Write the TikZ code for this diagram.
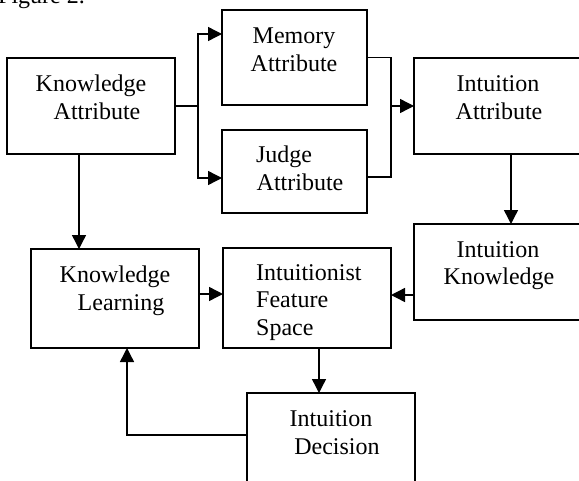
\documentclass[tikz,border=0pt]{standalone}
\usepackage{fontspec}
\setmainfont{Liberation Serif}
\usetikzlibrary{arrows.meta}
\begin{document}
\begin{tikzpicture}[x=1pt,y=-1pt,
  box/.style={draw,line width=1.2pt,inner sep=0pt,outer sep=0pt,anchor=north west},
  txt/.style={inner sep=0pt,anchor=base,font=\fontsize{24}{28}\selectfont},
  link/.style={line width=1.4pt},
  arr/.style={link,-{Triangle[length=14pt,width=14pt]}}]
\useasboundingbox (0,0) rectangle (579,480);

% caption, mostly above the top edge
\node[txt,anchor=base west] (fig) at (-2,3) {Figure 2.};

% boxes
\node[box,minimum width=168pt,minimum height=96pt]  (ka)  at (7,58)   {};
\node[box,minimum width=145pt,minimum height=95pt]  (mem) at (222,10) {};
\node[box,minimum width=145pt,minimum height=83pt]  (jud) at (222,130){};
\node[box,minimum width=168pt,minimum height=96pt]  (ia)  at (414,58) {};
\node[box,minimum width=168pt,minimum height=96pt]  (ik)  at (414,224){};
\node[box,minimum width=168pt,minimum height=99pt]  (kl)  at (31,249) {};
\node[box,minimum width=168pt,minimum height=100pt] (fs)  at (223,248){};
\node[box,minimum width=168pt,minimum height=96pt]  (id)  at (247,393){};

% labels
\node[txt] (ka1) at (91,91)   {Knowledge};
\node[txt] (ka2) at (97,119)  {Attribute};
\node[txt] (me1) at (294,43)  {Memory};
\node[txt] (me2) at (294,71)  {Attribute};
\node[txt] (ju1) at (284,162) {Judge};
\node[txt] (ju2) at (300,190) {Attribute};
\node[txt] (ia1) at (498,91)  {Intuition};
\node[txt] (ia2) at (499,119) {Attribute};
\node[txt] (ik1) at (498,257) {Intuition};
\node[txt] (ik2) at (499,284) {Knowledge};
\node[txt] (kl1) at (115,282) {Knowledge};
\node[txt] (kl2) at (121,310) {Learning};
\node[txt,anchor=base west] (fs1) at (256,280) {Intuitionist};
\node[txt,anchor=base west] (fs2) at (256,307) {Feature};
\node[txt,anchor=base west] (fs3) at (256,335) {Space};
\node[txt] (id1) at (331,426) {Intuition};
\node[txt] (id2) at (337,454) {Decision};

% split from the knowledge attribute
\coordinate (split) at (198,106);
\draw[link] (ka.east) -- (split);
\draw[arr] (split) |- (mem.west |- 0,34);
\draw[arr] (split) |- (jud.west |- 0,178);

% merge into the intuition attribute
\coordinate (merge) at (391,106);
\draw[link] (mem.east) -| (merge);
\draw[link] (jud.east |- 0,177) -| (merge);
\draw[arr] (merge) -- (ia.west);

% remaining flow
\draw[arr] (ia.south -| 511,0) -- (ik.north -| 511,0);
\draw[arr] (ka.south -| 79,0) -- (kl.north -| 79,0);
\draw[arr] (kl.east |- 0,294) -- (fs.west |- 0,294);
\draw[arr] (ik.west |- 0,295) -- (fs.east |- 0,295);
\draw[arr] (fs.south -| 319,0) -- (id.north -| 319,0);
\draw[arr] (id.west |- 0,435) -| (kl.south -| 127,0);
\end{tikzpicture}
\end{document}
